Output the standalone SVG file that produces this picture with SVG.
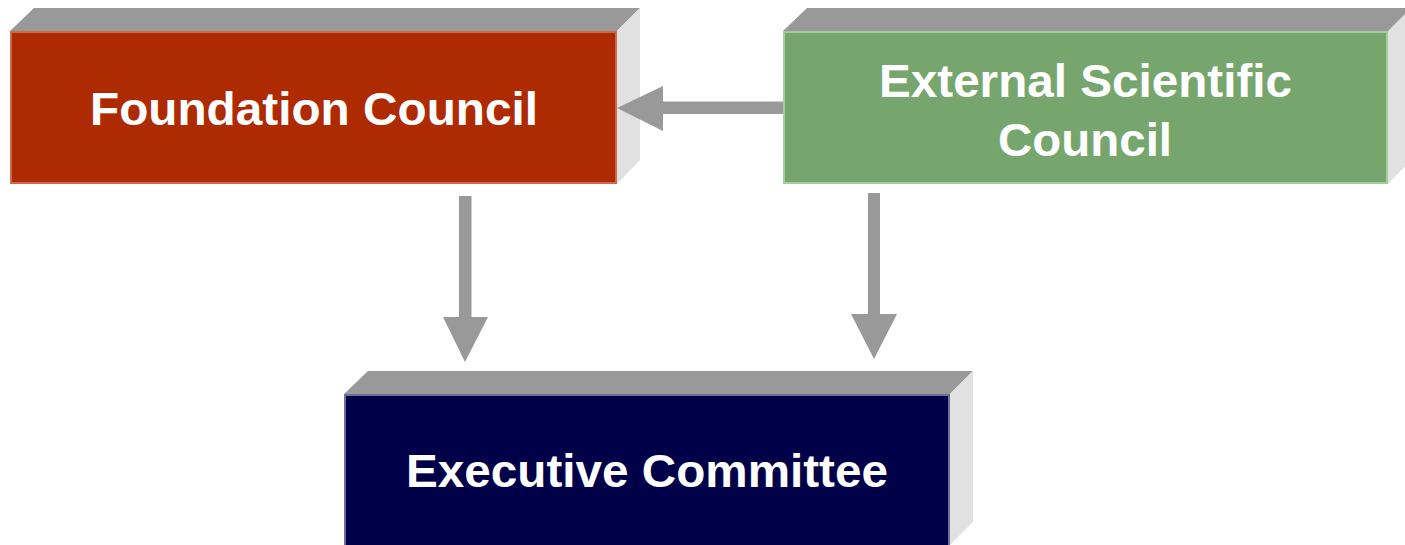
<svg xmlns="http://www.w3.org/2000/svg" width="1405" height="545" viewBox="0 0 1405 545">
<style>
.top{fill:#999999}
.side{fill:#E1E1E1}
.lbl{font-family:"Liberation Sans",Arial,sans-serif;font-weight:bold;font-size:47px;fill:#FFFFFF;text-anchor:middle}
.arr{fill:#999999}
</style>
<rect width="1405" height="545" fill="#FFFFFF"/>
<g id="foundation-council">
<polygon class="top" points="10,31 34,8 640,8 617,31"/>
<polygon class="side" points="617,31 640,8 640,160 617,184"/>
<rect x="11" y="32" width="605" height="151" fill="#AE2A00" stroke="#CC6A50" stroke-width="2"/>
<text class="lbl" x="314" y="125" textLength="448" lengthAdjust="spacingAndGlyphs">Foundation Council</text>
</g>
<g id="external-scientific-council">
<polygon class="top" points="783,31 807,8 1405,8 1405,31"/>
<polygon class="side" points="1388,31 1411,8 1411,160 1388,184"/>
<rect x="784" y="32" width="603" height="151" fill="#76A66E" stroke="#A4CC9C" stroke-width="2"/>
<text class="lbl" x="1085.5" y="97" textLength="413" lengthAdjust="spacingAndGlyphs">External Scientific</text>
<text class="lbl" x="1085" y="156" textLength="174" lengthAdjust="spacingAndGlyphs">Council</text>
</g>
<g id="executive-committee">
<polygon class="top" points="344,394 368,371 973,371 950,394"/>
<polygon class="side" points="950,394 973,371 973,522 950,545"/>
<rect x="345" y="395" width="604" height="152" fill="#000048" stroke="#6E6E9E" stroke-width="2"/>
<text class="lbl" x="647" y="487" textLength="482" lengthAdjust="spacingAndGlyphs">Executive Committee</text>
</g>
<g id="connectors">
<polygon class="arr" points="783,101.5 663,101.5 663,86 617,108 663,131 663,114 783,114"/>
<polygon class="arr" points="459,196 471.5,196 471.5,317 488,317 465,362 443,317 459,317"/>
<polygon class="arr" points="868,193 880,193 880,314 897,314 874,359 851,314 868,314"/>
</g>
</svg>
